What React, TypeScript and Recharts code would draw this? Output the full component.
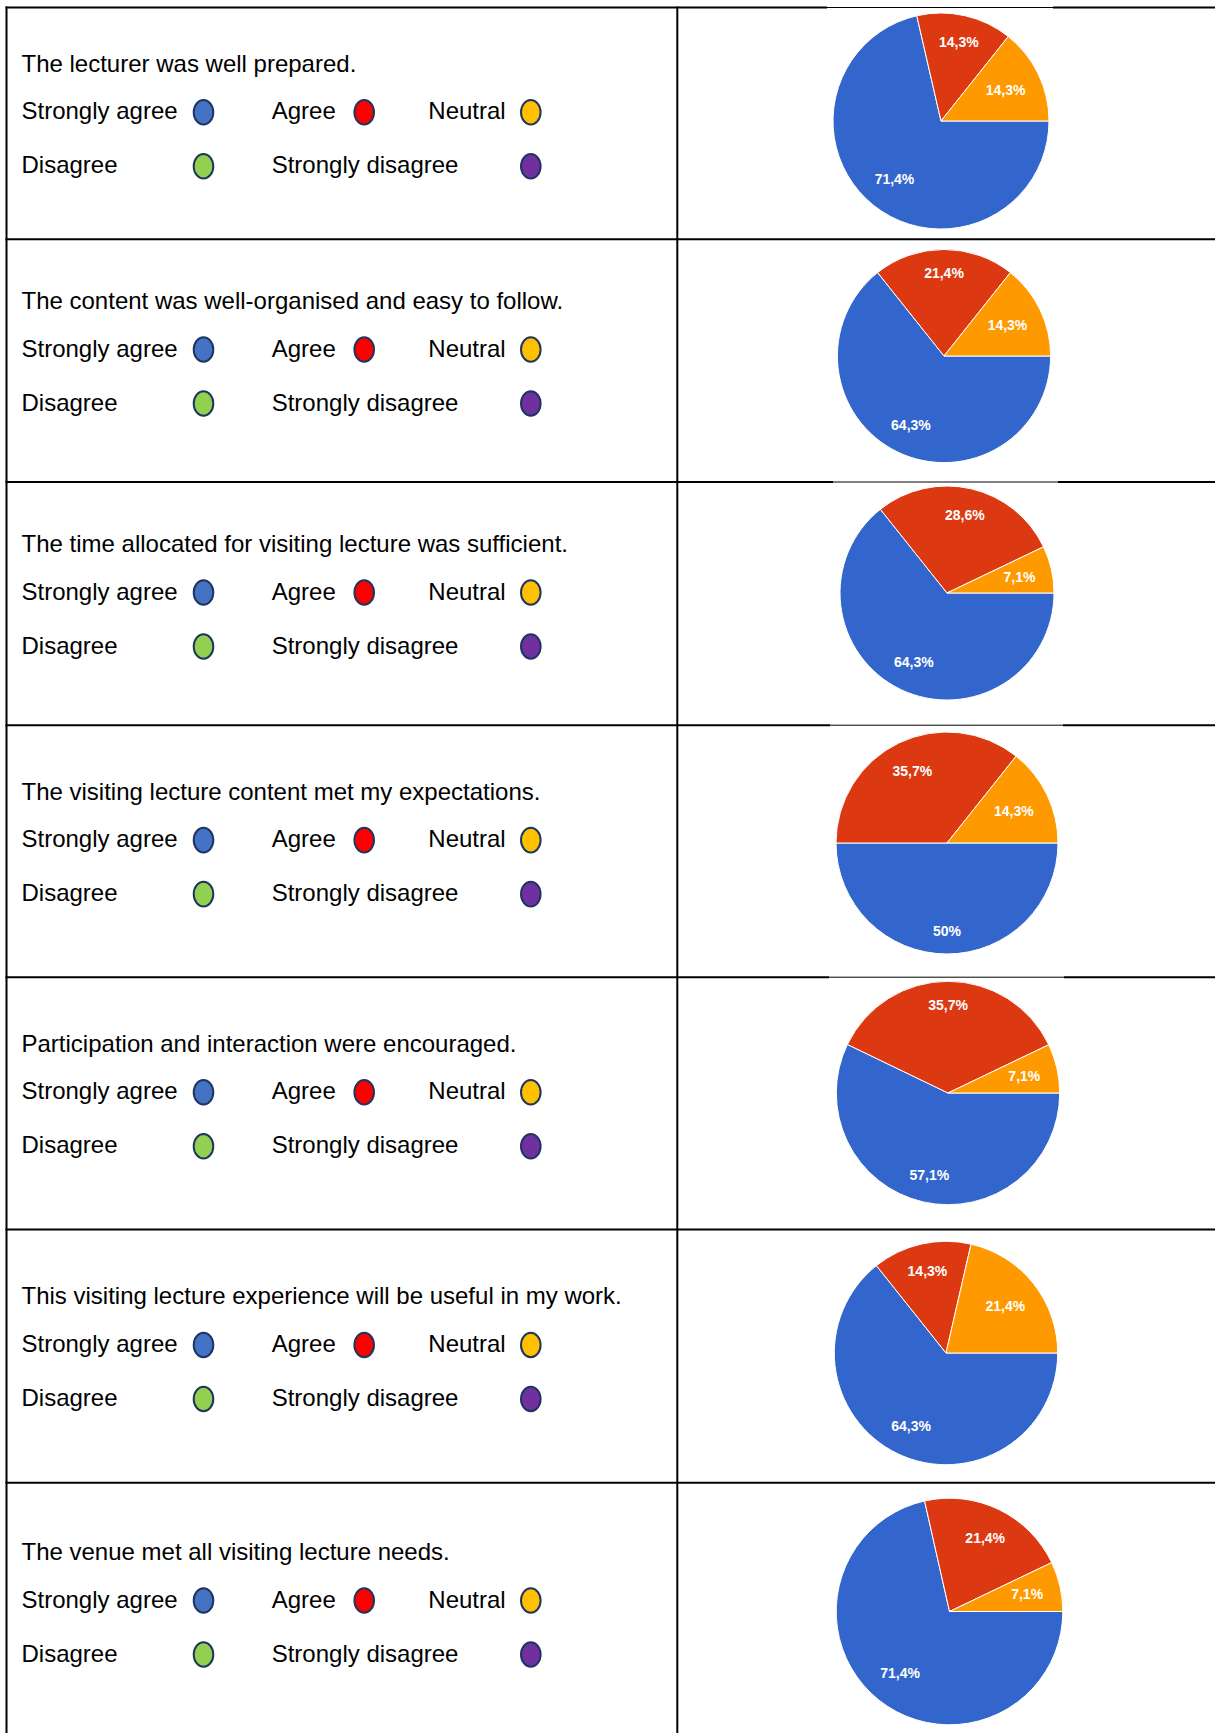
import React from 'react';
import { PieChart, Pie, Cell } from 'recharts';

// ---------- data ----------
const questions = [
  'The lecturer was well prepared.',
  'The content was well-organised and easy to follow.',
  'The time allocated for visiting lecture was sufficient.',
  'The visiting lecture content met my expectations.',
  'Participation and interaction were encouraged.',
  'This visiting lecture experience will be useful in my work.',
  'The venue met all visiting lecture needs.',
];
const pieCategories = ['Strongly agree', 'Agree', 'Neutral'];
const stronglyAgree = [71.4, 64.3, 64.3, 50, 57.1, 64.3, 71.4];
const agree = [14.3, 21.4, 28.6, 35.7, 35.7, 14.3, 21.4];
const neutral = [14.3, 14.3, 7.1, 14.3, 7.1, 21.4, 7.1];
const legendLabels = ['Strongly agree', 'Agree', 'Neutral', 'Disagree', 'Strongly disagree'];

// ---------- styles / layout ----------
const pieColors = ['#3366cc', '#dc3912', '#ff9900'];
const legendColors = ['#4472c4', '#ff0000', '#ffc000', '#92d050', '#7030a0'];
const legendStroke = '#1f3560';
const rowTops = [7.5, 239.3, 482, 725.2, 977.2, 1229.5, 1482.7];
const rowBottomLast = 1740.5;
const pieCenters = [
  [940.5, 121.3],
  [944.2, 356],
  [946.5, 593.3],
  [946.5, 842.8],
  [947.7, 1093.3],
  [945.7, 1353],
  [949.7, 1611.7],
];
const pieRadii = [108, 106.6, 107, 111, 111.7, 111.7, 113.3];
// horizontal border segments that appear thin (covered by chart image)
const thinGaps: Record<number, [number, number]> = {
  0: [827, 1053],
  2: [833, 1058],
  3: [830, 1063],
  4: [829, 1064],
};
// legend item placement: [textX, circleX, line]
const legendPlace = [
  [21.5, 203.5, 0],
  [271.7, 364.2, 0],
  [428.3, 530.8, 0],
  [21.5, 203.5, 1],
  [271.7, 530.8, 1],
];

const W = 1215;
const H = 1733;
const FONT = '"Liberation Sans", Arial, Helvetica, sans-serif';
const LABEL_FS = 14;

const charW: Record<string, number> = { ',': 0.278, '%': 0.889, '.': 0.278 };
const textWidth = (s: string) =>
  s.split('').reduce((a, ch) => a + (charW[ch] ?? 0.556), 0) * LABEL_FS;

const fmt = (v: number) => (Number.isInteger(v) ? `${v}%` : `${v.toFixed(1).replace('.', ',')}%`);

const renderLabel = (props: any) => {
  const { cx, cy, midAngle, outerRadius, value } = props;
  const txt = fmt(value);
  const RAD = Math.PI / 180;
  const ux = Math.cos(-midAngle * RAD);
  const uy = Math.sin(-midAngle * RAD);
  const hw = textWidth(txt) / 2;
  const hh = 5;
  const c = [Math.sign(ux) * hw, Math.sign(uy) * hh];
  const R = 0.85 * outerRadius;
  const uc = ux * c[0] + uy * c[1];
  const d = -uc + Math.sqrt(uc * uc - (c[0] * c[0] + c[1] * c[1]) + R * R);
  const x = cx + d * ux;
  const y = cy + d * uy;
  return (
    <text
      x={x}
      y={y + 5}
      textAnchor="middle"
      fill="#ffffff"
      fontFamily={FONT}
      fontSize={LABEL_FS}
      fontWeight="bold"
    >
      {txt}
    </text>
  );
};

function RowPie({ i }: { i: number }) {
  const r = pieRadii[i];
  const [px, py] = pieCenters[i];
  const size = Math.ceil(2 * r + 20);
  const data = pieCategories.map((name, k) => ({
    name,
    value: [stronglyAgree, agree, neutral][k][i],
  }));
  return (
    <div style={{ position: 'absolute', left: px - size / 2, top: py - size / 2, width: size, height: size }}>
      <PieChart width={size} height={size} margin={{ top: 0, right: 0, bottom: 0, left: 0 }}>
        <Pie
          data={data}
          dataKey="value"
          nameKey="name"
          cx={size / 2}
          cy={size / 2}
          outerRadius={r}
          startAngle={0}
          endAngle={-360}
          stroke="#ffffff"
          strokeWidth={1}
          label={renderLabel}
          labelLine={false}
          isAnimationActive={false}
        >
          {data.map((d, k) => (
            <Cell key={d.name} fill={pieColors[k]} />
          ))}
        </Pie>
      </PieChart>
    </div>
  );
}

export default function App() {
  const lines: React.ReactNode[] = [];
  rowTops.forEach((y, i) => {
    const gap = thinGaps[i];
    if (gap) {
      lines.push(<line key={`h${i}a`} x1={5.5} x2={gap[0]} y1={y} y2={y} stroke="#000" strokeWidth={2} />);
      lines.push(<line key={`h${i}b`} x1={gap[0]} x2={gap[1]} y1={y} y2={y} stroke="#000" strokeWidth={1} />);
      lines.push(<line key={`h${i}c`} x1={gap[1]} x2={W} y1={y} y2={y} stroke="#000" strokeWidth={2} />);
    } else {
      lines.push(<line key={`h${i}`} x1={5.5} x2={W} y1={y} y2={y} stroke="#000" strokeWidth={2} />);
    }
  });
  lines.push(<line key="vl" x1={6.5} x2={6.5} y1={6.5} y2={H} stroke="#000" strokeWidth={2} />);
  lines.push(<line key="vm" x1={677.3} x2={677.3} y1={6.5} y2={H} stroke="#000" strokeWidth={2} />);

  const texts: React.ReactNode[] = [];
  questions.forEach((q, i) => {
    const top = rowTops[i];
    const bottom = i + 1 < rowTops.length ? rowTops[i + 1] : rowBottomLast;
    const shift = (bottom - top - 231.8) / 2;
    const qBase = top + 64.2 + shift;
    const lBase = [top + 111.8 + shift, top + 165.8 + shift];
    texts.push(
      <text key={`q${i}`} x={21.5} y={qBase} fontFamily={FONT} fontSize={24} fill="#000">
        {q}
      </text>
    );
    legendLabels.forEach((lab, k) => {
      const [tx, ex, ln] = legendPlace[k];
      const base = lBase[ln];
      texts.push(
        <text key={`l${i}-${k}`} x={tx} y={base} fontFamily={FONT} fontSize={24} fill="#000">
          {lab}
        </text>
      );
      texts.push(
        <ellipse
          key={`e${i}-${k}`}
          cx={ex}
          cy={base - 7}
          rx={9.8}
          ry={12.3}
          fill={legendColors[k]}
          stroke={legendStroke}
          strokeWidth={2}
        />
      );
    });
  });

  return (
    <div style={{ position: 'absolute', left: 0, top: 0, width: W, height: H, background: '#fff', overflow: 'hidden' }}>
      <svg width={W} height={H} style={{ position: 'absolute', left: 0, top: 0 }}>
        {lines}
        {texts}
      </svg>
      {questions.map((_, i) => (
        <RowPie key={i} i={i} />
      ))}
    </div>
  );
}
